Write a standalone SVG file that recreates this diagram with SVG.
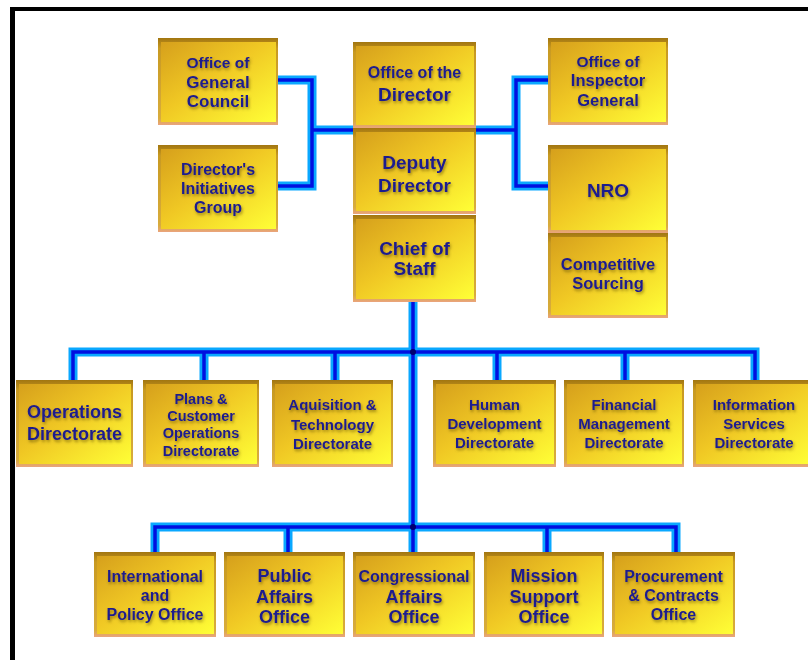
<svg xmlns="http://www.w3.org/2000/svg" width="808" height="660" viewBox="0 0 808 660">
<defs>
<linearGradient id="gb" x1="0" y1="0" x2="0" y2="1">
<stop offset="0" stop-color="#a27610"/>
<stop offset="0.12" stop-color="#c89a22"/>
<stop offset="0.92" stop-color="#d8ac3c"/>
<stop offset="1" stop-color="#eaa47e"/>
</linearGradient>
<linearGradient id="gf" x1="0" y1="0" x2="1" y2="1">
<stop offset="0" stop-color="#d6a01c"/>
<stop offset="0.45" stop-color="#f0c824"/>
<stop offset="1" stop-color="#ffff36"/>
</linearGradient>
<filter id="ts" x="-15%" y="-40%" width="130%" height="180%">
<feGaussianBlur in="SourceAlpha" stdDeviation="1.8" result="b"/>
<feOffset in="b" dx="1" dy="1.5" result="o"/>
<feFlood flood-color="#5a4800" flood-opacity="0.6"/>
<feComposite in2="o" operator="in" result="s"/>
<feMerge><feMergeNode in="s"/><feMergeNode in="SourceGraphic"/></feMerge>
</filter>
</defs>
<style>
.bo{fill:url(#gb)}
.bi{fill:url(#gf)}
.t{font-family:"Liberation Sans",Arial,sans-serif;font-weight:bold;fill:#1c1a8e;text-anchor:middle;filter:url(#ts)}
.w1{fill:none;stroke:#0aa8ff;stroke-width:9;stroke-linejoin:miter}
.w2{fill:none;stroke:#0010e0;stroke-width:3.5;stroke-linejoin:miter}
.dot{fill:#000070}
.frame{fill:#000}
</style>
<rect x="0" y="0" width="808" height="660" fill="#fff"/>
<rect class="frame" x="10" y="7" width="5" height="653"/>
<rect class="frame" x="10" y="7" width="798" height="4"/>

<g id="connectors">
<path class="w1" d="M278,80 H312 V186 H278 M312,130 H353 M548,80 H516 V186 H548 M476,130 H516 M413,302 V552 M73,380 V352 H755 V380 M204,352 V380 M335,352 V380 M497,352 V380 M625,352 V380 M155,552 V527 H676 V552 M288,527 V552 M547,527 V552"/>
<path class="w2" d="M278,80 H312 V186 H278 M312,130 H353 M548,80 H516 V186 H548 M476,130 H516 M413,302 V552 M73,380 V352 H755 V380 M204,352 V380 M335,352 V380 M497,352 V380 M625,352 V380 M155,552 V527 H676 V552 M288,527 V552 M547,527 V552"/>
<circle class="dot" cx="413" cy="352" r="3"/>
<circle class="dot" cx="413" cy="527" r="3"/>
</g>

<g id="ogc"><rect class="bo" x="158" y="38" width="120" height="87"/><rect class="bi" x="161" y="42" width="115" height="80"/>
<text class="t" font-size="15.5"><tspan x="218" y="68">Office of</tspan><tspan x="218" y="88" font-size="17">General</tspan><tspan x="218" y="107" font-size="17">Council</tspan></text></g>

<g id="dig"><rect class="bo" x="158" y="145" width="120" height="87"/><rect class="bi" x="161" y="149" width="115" height="80"/>
<text class="t" font-size="16"><tspan x="218" y="175">Director's</tspan><tspan x="218" y="194">Initiatives</tspan><tspan x="218" y="213">Group</tspan></text></g>

<g id="dir"><rect class="bo" x="353" y="42" width="123" height="86"/><rect class="bi" x="356" y="46" width="118" height="79"/>
<text class="t" font-size="16"><tspan x="414.5" y="78">Office of the</tspan><tspan x="414.5" y="101" font-size="19">Director</tspan></text></g>

<g id="dep"><rect class="bo" x="353" y="128" width="123" height="86"/><rect class="bi" x="356" y="132" width="118" height="79"/>
<text class="t" font-size="19"><tspan x="414.5" y="169">Deputy</tspan><tspan x="414.5" y="192">Director</tspan></text></g>

<g id="cos"><rect class="bo" x="353" y="215" width="123" height="87"/><rect class="bi" x="356" y="219" width="118" height="80"/>
<text class="t" font-size="19"><tspan x="414.5" y="255">Chief of</tspan><tspan x="414.5" y="275">Staff</tspan></text></g>

<g id="oig"><rect class="bo" x="548" y="38" width="120" height="87"/><rect class="bi" x="551" y="42" width="115" height="80"/>
<text class="t" font-size="15.5"><tspan x="608" y="67">Office of</tspan><tspan x="608" y="86" font-size="16.5">Inspector</tspan><tspan x="608" y="106" font-size="16.5">General</tspan></text></g>

<g id="nro"><rect class="bo" x="548" y="145" width="120" height="88"/><rect class="bi" x="551" y="149" width="115" height="81"/>
<text class="t" x="608" y="197" font-size="19">NRO</text></g>

<g id="cs"><rect class="bo" x="548" y="233" width="120" height="85"/><rect class="bi" x="551" y="237" width="115" height="78"/>
<text class="t" font-size="16.5"><tspan x="608" y="270">Competitive</tspan><tspan x="608" y="289">Sourcing</tspan></text></g>

<g id="ops"><rect class="bo" x="16" y="380" width="117" height="87"/><rect class="bi" x="19" y="384" width="112" height="80"/>
<text class="t" font-size="18"><tspan x="74.5" y="418">Operations</tspan><tspan x="74.5" y="440">Directorate</tspan></text></g>

<g id="pcod"><rect class="bo" x="143" y="380" width="116" height="87"/><rect class="bi" x="146" y="384" width="111" height="80"/>
<text class="t" font-size="14.5"><tspan x="201" y="404">Plans &amp;</tspan><tspan x="201" y="421">Customer</tspan><tspan x="201" y="438">Operations</tspan><tspan x="201" y="456">Directorate</tspan></text></g>

<g id="atd"><rect class="bo" x="272" y="380" width="121" height="87"/><rect class="bi" x="275" y="384" width="116" height="80"/>
<text class="t" font-size="15"><tspan x="332.5" y="410">Aquisition &amp;</tspan><tspan x="332.5" y="430">Technology</tspan><tspan x="332.5" y="449">Directorate</tspan></text></g>

<g id="hdd"><rect class="bo" x="433" y="380" width="123" height="87"/><rect class="bi" x="436" y="384" width="118" height="80"/>
<text class="t" font-size="15"><tspan x="494.5" y="410">Human</tspan><tspan x="494.5" y="429">Development</tspan><tspan x="494.5" y="448">Directorate</tspan></text></g>

<g id="fmd"><rect class="bo" x="564" y="380" width="120" height="87"/><rect class="bi" x="567" y="384" width="115" height="80"/>
<text class="t" font-size="15"><tspan x="624" y="410">Financial</tspan><tspan x="624" y="429">Management</tspan><tspan x="624" y="448">Directorate</tspan></text></g>

<g id="isd"><rect class="bo" x="693" y="380" width="120" height="87"/><rect class="bi" x="696" y="384" width="115" height="80"/>
<text class="t" font-size="15"><tspan x="754" y="410">Information</tspan><tspan x="754" y="429">Services</tspan><tspan x="754" y="448">Directorate</tspan></text></g>

<g id="ipo"><rect class="bo" x="94" y="552" width="122" height="85"/><rect class="bi" x="97" y="556" width="117" height="78"/>
<text class="t" font-size="16"><tspan x="155" y="582">International</tspan><tspan x="155" y="601">and</tspan><tspan x="155" y="620">Policy Office</tspan></text></g>

<g id="pao"><rect class="bo" x="224" y="552" width="121" height="85"/><rect class="bi" x="227" y="556" width="116" height="78"/>
<text class="t" font-size="18"><tspan x="284.5" y="582">Public</tspan><tspan x="284.5" y="603">Affairs</tspan><tspan x="284.5" y="623">Office</tspan></text></g>

<g id="cao"><rect class="bo" x="353" y="552" width="122" height="85"/><rect class="bi" x="356" y="556" width="117" height="78"/>
<text class="t" font-size="18"><tspan x="414" y="582" font-size="16">Congressional</tspan><tspan x="414" y="603">Affairs</tspan><tspan x="414" y="623">Office</tspan></text></g>

<g id="mso"><rect class="bo" x="484" y="552" width="120" height="85"/><rect class="bi" x="487" y="556" width="115" height="78"/>
<text class="t" font-size="18"><tspan x="544" y="582">Mission</tspan><tspan x="544" y="603">Support</tspan><tspan x="544" y="623">Office</tspan></text></g>

<g id="pco"><rect class="bo" x="612" y="552" width="123" height="85"/><rect class="bi" x="615" y="556" width="118" height="78"/>
<text class="t" font-size="16"><tspan x="673.5" y="582">Procurement</tspan><tspan x="673.5" y="601">&amp; Contracts</tspan><tspan x="673.5" y="620">Office</tspan></text></g>
</svg>
